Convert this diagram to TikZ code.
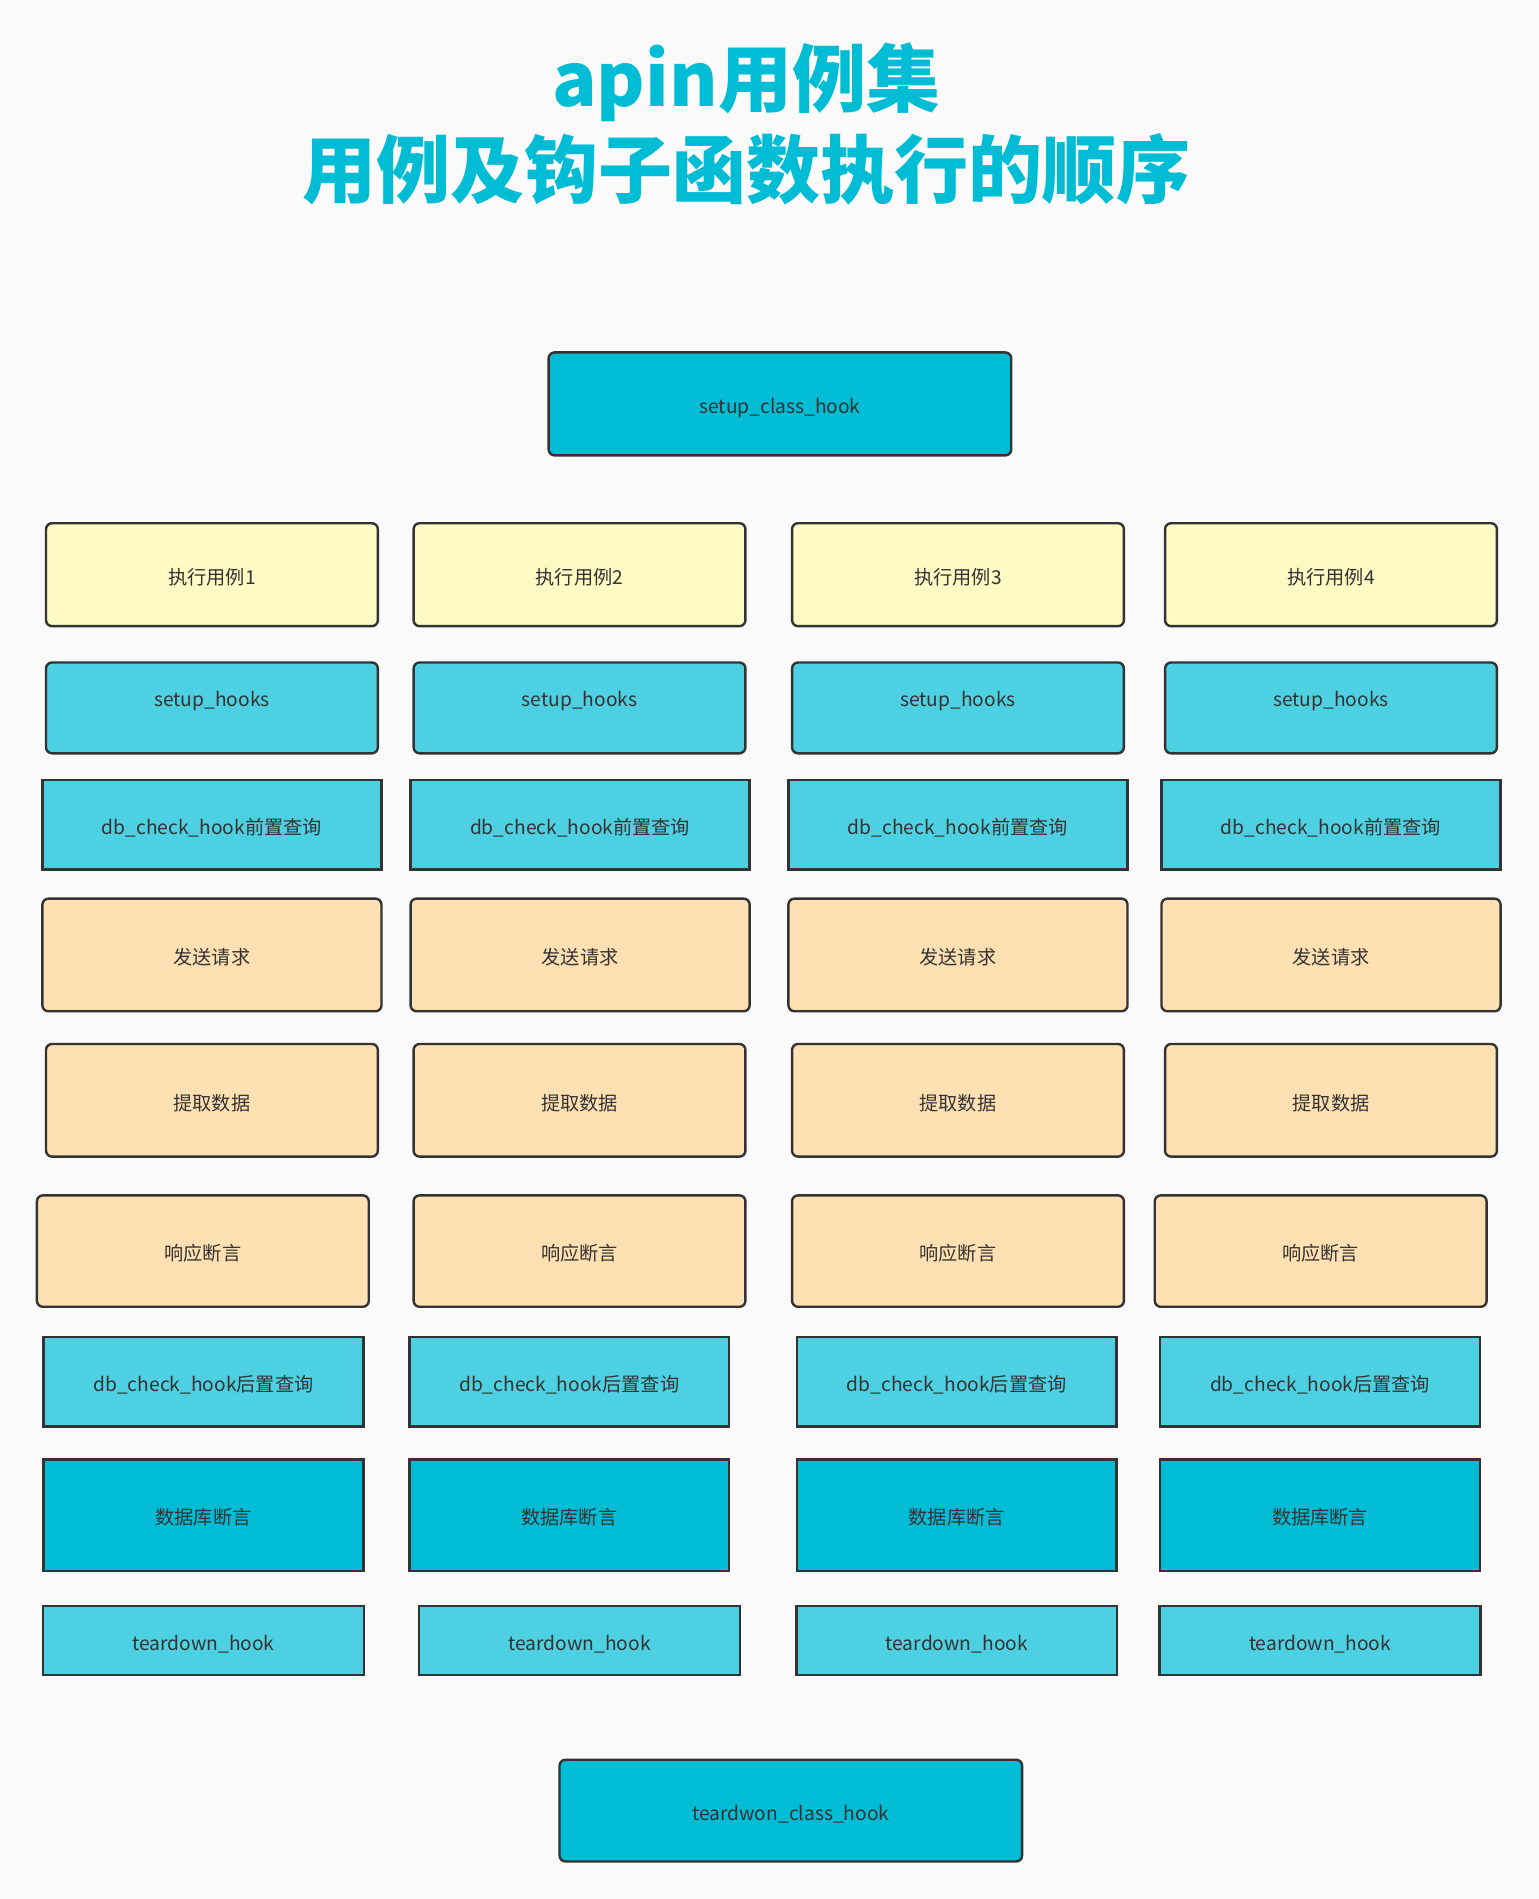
\documentclass[tikz,border=0pt]{standalone}
\usepackage{fontspec}
\setmainfont{Noto Sans CJK SC}
\usetikzlibrary{positioning}

\definecolor{bggray}{HTML}{FAFAFA}
\definecolor{linegray}{HTML}{333333}
\definecolor{textgray}{HTML}{333333}
\definecolor{titlecyan}{HTML}{00BCD4}
\definecolor{darkcyan}{HTML}{00BCD4}
\definecolor{lightcyan}{HTML}{4DD0E1}
\definecolor{paleyellow}{HTML}{FFF9C4}
\definecolor{peach}{HTML}{FFE0B2}

\newcommand{\lift}[1]{\raisebox{5.4pt}[\height][\depth]{#1}}

\begin{document}
\begin{tikzpicture}[x=0.6055pt, y=-0.6055pt]
  \tikzset{box/.style={
      draw=linegray, line width=1.2pt, text=textgray, inner sep=0pt,
      text height=11pt, text depth=1.2pt,
      font=\fontsize{9.6}{11}\selectfont
    },
    roundbox/.style={box, rounded corners=3pt},
    sz/.style 2 args={minimum width=#1*0.6055pt, minimum height=#2*0.6055pt}
  }

  \fill[bggray] (0,0) rectangle (1270,1568);
  \useasboundingbox (0,0) rectangle (1270,1568);

  \node[align=center, text=titlecyan, font=\fontsize{37}{45.5}\selectfont\bfseries] (title) at (616,102)
  {apin用例集\\用例及钩子函数执行的顺序};

  \node[roundbox, fill=darkcyan, sz={382}{85}] (setupclass) at (644,333.5) {setup\_class\_hook};

  \foreach \i/\x in {1/175, 2/478.5, 3/791, 4/1099}
  {
    \node[roundbox, fill=paleyellow, sz={274}{85}] (run\i) at (\x,474.5) {执行用例\i};
    \node[roundbox, fill=lightcyan, sz={274}{75}] (setup\i) at (\x,584.5) {\lift{setup\_hooks}};
    \node[roundbox, fill=peach, sz={274}{93}] (fetch\i) at (\x,908.5) {提取数据};
  }

  \foreach \i/\x in {1/175, 2/479, 3/791, 4/1099}
  {
    \node[box, fill=lightcyan, sz={280}{74}] (pre\i) at (\x,681) {db\_check\_hook前置查询};
    \node[roundbox, fill=peach, sz={280}{93}] (send\i) at (\x,788.5) {发送请求};
  }

  \foreach \i/\x in {1/167.5, 2/478.5, 3/791, 4/1090.5}
    \node[roundbox, fill=peach, sz={274}{92}] (resp\i) at (\x,1033) {响应断言};

  \foreach \i/\x in {1/168, 2/470, 3/790, 4/1090}
  {
    \node[box, fill=lightcyan, sz={264}{74}] (post\i) at (\x,1141) {db\_check\_hook后置查询};
    \node[box, fill=darkcyan, sz={264}{92}] (dbcheck\i) at (\x,1251) {数据库断言};
  }

  \foreach \i/\x in {1/168, 2/478.5, 3/790, 4/1090}
    \node[box, fill=lightcyan, sz={265}{57}] (teardown\i) at (\x,1354.5) {teardown\_hook};

  \node[roundbox, fill=darkcyan, sz={382}{84}] (teardownclass) at (653,1495) {teardwon\_class\_hook};
\end{tikzpicture}
\end{document}
